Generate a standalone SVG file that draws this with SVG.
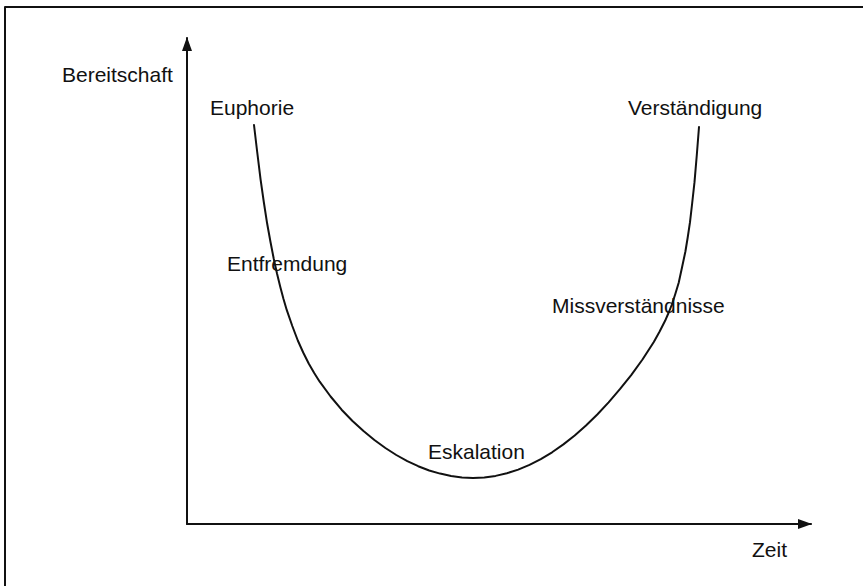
<svg xmlns="http://www.w3.org/2000/svg" width="863" height="586" viewBox="0 0 863 586">
<style>
text{font-family:"Liberation Sans",Arial,sans-serif;font-size:21px;fill:#111}
.ln{fill:none;stroke:#111;stroke-width:2;stroke-linejoin:round;stroke-linecap:round}
</style>
<defs>
<marker id="ah" markerWidth="14" markerHeight="10" refX="13" refY="5" orient="auto" markerUnits="userSpaceOnUse">
<path d="M0,0 L14,5 L0,10 Z" fill="#111"/>
</marker>
</defs>
<rect width="863" height="586" fill="#fff"/>
<path class="ln" d="M5,586 V7 H863" stroke-width="2.5"/>
<g id="connectors">
<line class="ln" x1="187" y1="524" x2="187" y2="38" marker-end="url(#ah)"/>
<line class="ln" x1="187" y1="524" x2="811" y2="524" marker-end="url(#ah)"/>
<path id="curve" class="ln" d="M254,125 L257.2,152 L260.6,179.7 L263.8,202 L267.1,223.3 L270.4,241.5 L273.7,258.5 L277,273.5 L280.3,286.9 L283.5,299 L286.8,310.2 L292.3,326 L297.8,340.5 L303.2,352.5 L308.7,363.5 L314.2,373 L319.7,381.7 L330.6,396.5 L341.6,409.7 L352.5,421 L363.5,431 L374.4,440 L385.4,448 L396.3,455 L407.3,461.2 L418.2,466.2 L429.2,470.5 L440.1,473.6 L451.1,476.1 L462,477.5 L473,478 L484.3,477.5 L495.6,475.9 L506.9,473.2 L518.2,469.6 L529.5,464.9 L540.8,459.1 L552.1,452.3 L563.4,444.4 L574.7,435.5 L586,425.5 L597.3,414.5 L608.6,402.4 L619.9,389.2 L631.2,375.1 L642.5,359.5 L653.8,342 L659.5,331.7 L665.1,320.8 L668.5,313 L671.9,304.5 L675.3,294 L678.7,282.7 L682,267.5 L685.4,251.5 L687.7,237.5 L690,222.2 L692.2,203 L694.5,182.2 L696.8,155 L699,127"/>
</g>
<g id="axis-y-label"><text x="62" y="82">Bereitschaft</text></g>
<g id="axis-x-label"><text x="752" y="557">Zeit</text></g>
<g id="euphorie"><text x="210" y="115">Euphorie</text></g>
<g id="verstaendigung"><text x="628" y="115">Verständigung</text></g>
<g id="entfremdung"><text x="227" y="271">Entfremdung</text></g>
<g id="missverstaendnisse"><text x="552" y="313">Missverständnisse</text></g>
<g id="eskalation"><text x="428" y="459">Eskalation</text></g>
</svg>
